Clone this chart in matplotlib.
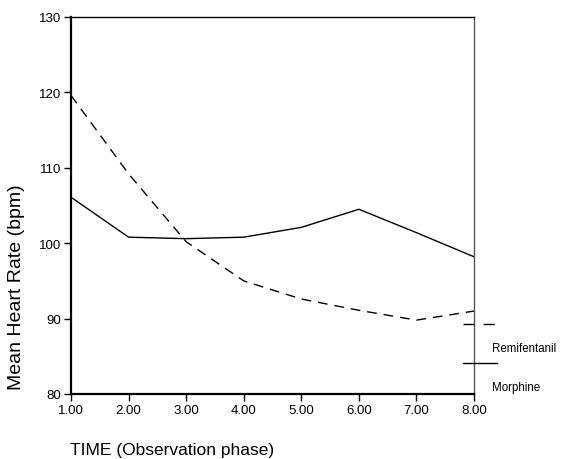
import numpy as np
import matplotlib.pyplot as plt
from matplotlib.lines import Line2D

plt.rcParams['font.family'] = ['Liberation Sans', 'DejaVu Sans']

# -----------------------------
# Data
# -----------------------------
phase = [1, 2, 3, 4, 5, 6, 7, 8]
remifentanil = [119.6, 109.2, 100.2, 95.0, 92.6, 91.1, 89.8, 91.0]
morphine = [106.1, 100.8, 100.6, 100.8, 102.1, 104.5, 101.4, 98.2]
series_names = ["Remifentanil", "Morphine"]
series_styles = [(0, (7, 5)), "-"]
legend_styles = [(0, (8, 6.5)), "-"]
y_ticks = [80, 90, 100, 110, 120, 130]

# -----------------------------
# Plot
# -----------------------------
fig = plt.figure(figsize=(5.68, 4.60), dpi=100)
ax = fig.add_axes([71 / 568, 65 / 460, 403 / 568, 377 / 460])

for vals, style in zip([remifentanil, morphine], series_styles):
    ax.plot(phase, vals, color="black", lw=1.0, linestyle=style)

ax.set_xlim(1, 8)
ax.set_ylim(80, 130)
ax.set_xticks(phase)
ax.set_xticklabels([f"{p:.2f}" for p in phase])
ax.set_yticks(y_ticks)
ax.tick_params(direction="out", length=5, width=1, labelsize=9.5, pad=2)

for side in ["left", "bottom"]:
    ax.spines[side].set_linewidth(1.6)
for side in ["top", "right"]:
    ax.spines[side].set_linewidth(1.0)
ax.spines["right"].set_color("#555555")

fig.text(17 / 568, 1 - 287 / 460, "Mean Heart Rate (bpm)", fontsize=14,
         rotation=90, ha="center", va="center")
fig.text(70 / 568, 1 - 451 / 460, "TIME (Observation phase)", fontsize=12.5,
         ha="left", va="center")

# legend outside, to the right
line_y = [1 - 325 / 460, 1 - 364 / 460]
text_y = [1 - 349 / 460, 1 - 388 / 460]
for name, style, ly, ty in zip(series_names, legend_styles, line_y, text_y):
    fig.add_artist(Line2D([463 / 568, 497 / 568], [ly, ly], color="black",
                          lw=1.0, linestyle=style))
    fig.text(492 / 568, ty, name, fontsize=8.3, ha="left", va="center")

fig.savefig("out.png", dpi=100)
